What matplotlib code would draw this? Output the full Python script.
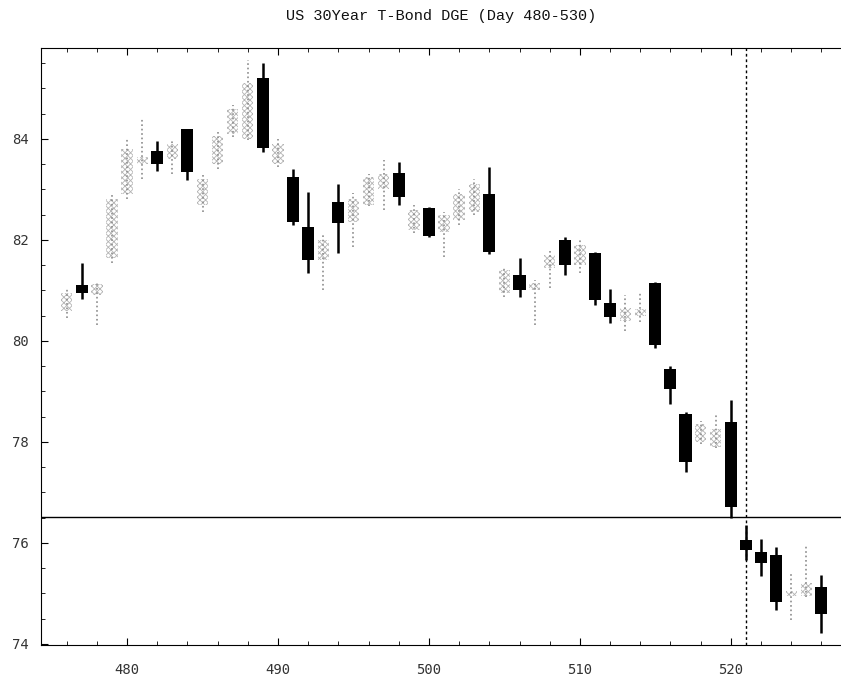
import matplotlib
matplotlib.use("Agg")
import matplotlib.pyplot as plt
from matplotlib.ticker import MultipleLocator

# daily OHLC (days 476-526)
days = list(range(476, 527))
opens = [80.6, 81.1, 80.9, 81.65, 82.9, 83.5, 83.76, 83.6, 84.2, 82.7,
         83.5, 84.1, 84.0, 85.2, 83.5, 83.25, 82.26, 81.6, 82.75, 82.35,
         82.7, 83.0, 83.33, 82.2, 82.63, 82.15, 82.4, 82.55, 82.9, 80.95,
         81.3, 81.0, 81.45, 82.0, 81.5, 81.74, 80.75, 80.4, 80.5, 81.15,
         79.45, 78.55, 78.0, 77.9, 78.4, 76.05, 75.82, 75.76, 74.95, 74.95,
         75.12]
highs = [81.05, 81.55, 81.15, 82.9, 84.0, 84.4, 83.96, 84.0, 84.2, 83.3,
         84.15, 84.67, 85.56, 85.5, 84.0, 83.4, 82.95, 82.1, 83.1, 82.93,
         83.3, 83.58, 83.55, 82.7, 82.65, 82.55, 83.0, 83.2, 83.45, 81.47,
         81.64, 81.2, 81.8, 82.05, 82.04, 81.76, 81.03, 80.9, 80.97, 81.17,
         79.5, 78.6, 78.42, 78.55, 78.83, 76.36, 76.08, 75.92, 75.43, 75.98,
         75.37]
lows = [80.45, 80.83, 80.32, 81.55, 82.8, 83.2, 83.37, 83.3, 83.19, 82.55,
        83.4, 84.04, 83.98, 83.74, 83.45, 82.3, 81.35, 81.0, 81.74, 81.86,
        82.67, 82.6, 82.7, 82.14, 82.05, 81.66, 82.3, 82.5, 81.72, 80.87,
        80.87, 80.32, 81.05, 81.31, 81.35, 80.71, 80.36, 80.2, 80.38, 79.86,
        78.75, 77.4, 77.95, 77.88, 76.5, 75.66, 75.35, 74.67, 74.48, 74.93,
        74.22]
closes = [80.95, 80.95, 81.12, 82.8, 83.8, 83.65, 83.5, 83.9, 83.35, 83.2,
          84.05, 84.6, 85.1, 83.82, 83.9, 82.36, 81.6, 82.0, 82.34, 82.8,
          83.25, 83.3, 82.85, 82.6, 82.08, 82.5, 82.9, 83.1, 81.76, 81.4,
          81.0, 81.15, 81.7, 81.5, 81.9, 80.8, 80.48, 80.65, 80.63, 79.92,
          79.05, 77.6, 78.35, 78.25, 76.72, 75.87, 75.6, 74.84, 75.05, 75.2,
          74.6]

level = 76.52
marker_day = 521

plt.rcParams["hatch.linewidth"] = 0.6

fig = plt.figure(figsize=(8.41, 6.80), dpi=100)
ax = fig.add_axes([0.0488, 0.0515, 0.9512, 0.878])

for d, o, h, l, c in zip(days, opens, highs, lows, closes):
    if c >= o:
        # up day: light stippled body
        ax.vlines(d, l, h, color="#8c8c8c", linewidth=1.2, linestyle=":")
        ax.bar(d, c - o, bottom=o, width=0.75, facecolor="white",
               edgecolor="#b4b4b4", hatch="xxxxxx", linewidth=0)
    else:
        ax.vlines(d, l, h, color="black", linewidth=1.8)
        ax.bar(d, o - c, bottom=c, width=0.8, color="black")

ax.axhline(level, color="black", linewidth=1.0)
ax.axvline(marker_day, color="black", linewidth=1.0, linestyle=(0, (2, 2)))

ax.set_xlim(474.3, 527.3)
ax.set_ylim(73.98, 85.8)
ax.xaxis.set_major_locator(MultipleLocator(10))
ax.xaxis.set_minor_locator(MultipleLocator(2))
ax.yaxis.set_major_locator(MultipleLocator(2))
ax.yaxis.set_minor_locator(MultipleLocator(0.5))
ax.tick_params(which="both", direction="in", top=True, right=False,
               labelfontfamily="DejaVu Sans Mono", labelsize=10,
               labelcolor="#333333")
ax.tick_params(axis="x", which="major", length=5, pad=13)
ax.tick_params(axis="y", which="major", length=5, pad=9)
ax.tick_params(which="minor", length=3)
ax.spines["right"].set_visible(False)

fig.suptitle("US 30Year T-Bond DGE (Day 480-530)", x=0.525, y=0.987,
             fontsize=11, family="Liberation Mono", color="#111111")

fig.savefig("out.png", dpi=100)
